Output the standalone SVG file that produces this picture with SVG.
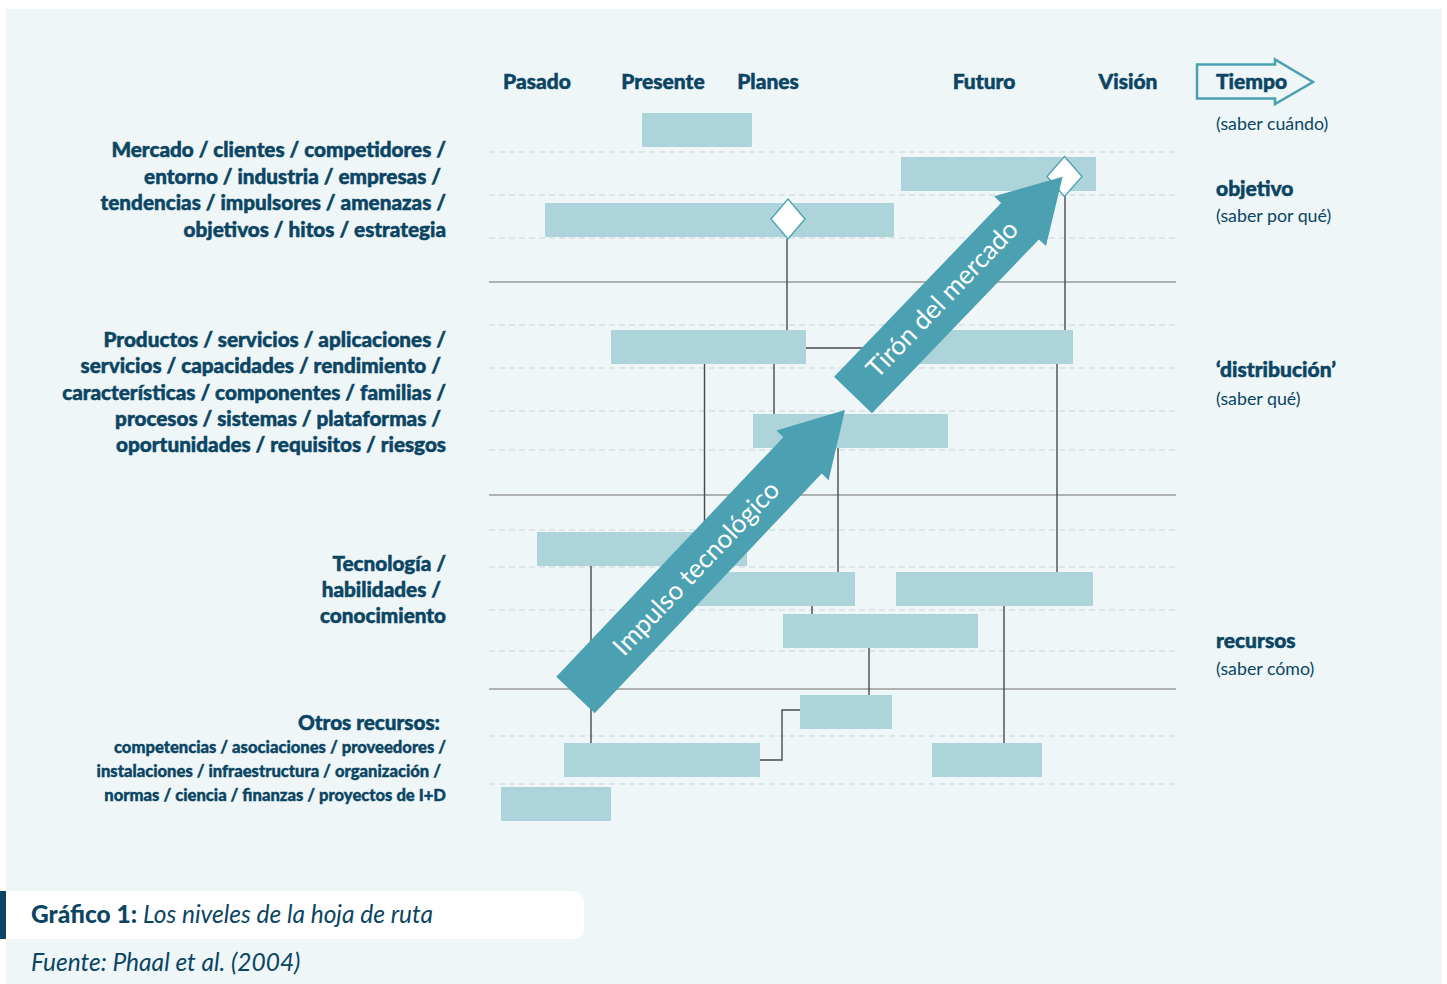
<svg xmlns="http://www.w3.org/2000/svg" width="1447" height="984" viewBox="0 0 1447 984">
<defs>
<style>
.bg{fill:#EEF6F8}
.bar{fill:#ADD4DA}
.dash{stroke:#D9E0E2;stroke-width:1.5;stroke-dasharray:6 4;fill:none}
.sep{stroke:#9A9A9A;stroke-width:1.5;fill:none}
.con{stroke:#4A4A4A;stroke-width:1.4;fill:none}
.dia{fill:#FFFFFF;stroke:#4BA1B1;stroke-width:1.3}
.arrow{fill:#4BA1B1}
.hd{font-family:Lato,"Noto Sans",sans-serif;font-weight:900;font-size:21px;fill:#0B4563;stroke:#0B4563;stroke-width:0.5}
.lab{font-family:Lato,"Noto Sans",sans-serif;font-weight:900;font-size:20.7px;fill:#0B4563;stroke:#0B4563;stroke-width:0.5;text-anchor:end}
.lab2{font-family:Lato,"Noto Sans",sans-serif;font-weight:900;font-size:16.6px;fill:#0B4563;stroke:#0B4563;stroke-width:0.4;text-anchor:end}
.rt{font-family:Lato,"Noto Sans",sans-serif;font-weight:900;font-size:21px;fill:#0B4563;stroke:#0B4563;stroke-width:0.5}
.rs{font-family:Lato,"Noto Sans",sans-serif;font-weight:400;font-size:17.8px;fill:#0B4563}
.at{font-family:Lato,"Noto Sans",sans-serif;font-weight:400;font-size:26px;fill:#FFFFFF;text-anchor:middle}
.cap{font-family:Lato,"Noto Sans",sans-serif;font-size:24.5px;fill:#0B4563}
</style>
</defs>
<rect x="0" y="0" width="1447" height="984" fill="#FFFFFF"/>
<rect class="bg" x="6" y="9" width="1436" height="975"/>

<g id="grid">
<line class="dash" x1="489" y1="152" x2="1176" y2="152"/>
<line class="dash" x1="489" y1="195" x2="1176" y2="195"/>
<line class="dash" x1="489" y1="238" x2="1176" y2="238"/>
<line class="sep" x1="489" y1="282" x2="1176" y2="282"/>
<line class="dash" x1="489" y1="325" x2="1176" y2="325"/>
<line class="dash" x1="489" y1="368" x2="1176" y2="368"/>
<line class="dash" x1="489" y1="411" x2="1176" y2="411"/>
<line class="dash" x1="489" y1="450" x2="1176" y2="450"/>
<line class="sep" x1="489" y1="495" x2="1176" y2="495"/>
<line class="dash" x1="489" y1="530" x2="1176" y2="530"/>
<line class="dash" x1="489" y1="567" x2="1176" y2="567"/>
<line class="dash" x1="489" y1="610" x2="1176" y2="610"/>
<line class="dash" x1="489" y1="651" x2="1176" y2="651"/>
<line class="sep" x1="489" y1="689" x2="1176" y2="689"/>
<line class="dash" x1="489" y1="736" x2="1176" y2="736"/>
<line class="dash" x1="489" y1="784" x2="1176" y2="784"/>
</g>

<g id="headers">
<text class="hd" x="537" y="89" text-anchor="middle">Pasado</text>
<text class="hd" x="663" y="89" text-anchor="middle">Presente</text>
<text class="hd" x="768" y="89" text-anchor="middle">Planes</text>
<text class="hd" x="984" y="89" text-anchor="middle">Futuro</text>
<text class="hd" x="1128" y="89" text-anchor="middle">Visión</text>
</g>

<g id="tiempo">
<polygon points="1197,64.5 1275,64.5 1275,59.5 1313,82 1275,104 1275,98.5 1197,98.5" fill="none" stroke="#4BA1B1" stroke-width="2.5"/>
<text class="rt" x="1216" y="89">Tiempo</text>
<text class="rs" x="1216" y="130">(saber cuándo)</text>
</g>

<g id="right-labels">
<text class="rt" x="1216" y="196">objetivo</text>
<text class="rs" x="1216" y="222">(saber por qué)</text>
<text class="rt" x="1216" y="377">‘distribución’</text>
<text class="rs" x="1216" y="405">(saber qué)</text>
<text class="rt" x="1216" y="648">recursos</text>
<text class="rs" x="1216" y="675">(saber cómo)</text>
</g>

<g id="left-labels">
<text class="lab" x="446" y="157">Mercado / clientes / competidores /</text>
<text class="lab" x="441" y="183.5">entorno / industria / empresas /</text>
<text class="lab" x="446" y="210">tendencias / impulsores / amenazas /</text>
<text class="lab" x="446" y="236.5">objetivos / hitos / estrategia</text>
<text class="lab" x="446" y="347">Productos / servicios / aplicaciones /</text>
<text class="lab" x="441" y="373">servicios / capacidades / rendimiento /</text>
<text class="lab" x="446" y="399.5">características / componentes / familias /</text>
<text class="lab" x="441" y="426">procesos / sistemas / plataformas /</text>
<text class="lab" x="446" y="452">oportunidades / requisitos / riesgos</text>
<text class="lab" x="446" y="571">Tecnología /</text>
<text class="lab" x="441" y="596.5">habilidades /</text>
<text class="lab" x="446" y="623">conocimiento</text>
<text class="lab" x="440" y="729.5">Otros recursos:</text>
<text class="lab2" x="446" y="753">competencias / asociaciones / proveedores /</text>
<text class="lab2" x="441" y="777">instalaciones / infraestructura / organización /</text>
<text class="lab2" x="446" y="801">normas / ciencia / finanzas / proyectos de I+D</text>
</g>

<g id="connectors">
<line class="con" x1="787" y1="239" x2="787" y2="330"/>
<line class="con" x1="1065" y1="196" x2="1065" y2="330"/>
<line class="con" x1="806" y1="348" x2="880" y2="348"/>
<line class="con" x1="704.5" y1="364" x2="704.5" y2="532"/>
<line class="con" x1="774" y1="364" x2="774" y2="414"/>
<line class="con" x1="838" y1="448" x2="838" y2="572"/>
<line class="con" x1="1057" y1="364" x2="1057" y2="572"/>
<line class="con" x1="591" y1="566" x2="591" y2="743"/>
<line class="con" x1="812" y1="606" x2="812" y2="614"/>
<line class="con" x1="869" y1="648" x2="869" y2="695"/>
<line class="con" x1="1004" y1="606" x2="1004" y2="743"/>
<polyline class="con" points="760,760 782,760 782,710 800,710"/>
</g>

<g id="bars">
<rect id="b1" class="bar" x="642" y="113" width="110" height="34"/>
<rect id="b2" class="bar" x="901" y="157" width="195" height="34"/>
<rect id="b3" class="bar" x="545" y="203" width="349" height="34"/>
<rect id="b4" class="bar" x="611" y="330" width="195" height="34"/>
<rect id="b5" class="bar" x="880" y="330" width="193" height="34"/>
<rect id="b6" class="bar" x="753" y="414" width="195" height="34"/>
<rect id="b7" class="bar" x="537" y="532" width="210" height="34"/>
<rect id="b8" class="bar" x="690" y="572" width="165" height="34"/>
<rect id="b9" class="bar" x="896" y="572" width="197" height="34"/>
<rect id="b10" class="bar" x="783" y="614" width="195" height="34"/>
<rect id="b11" class="bar" x="800" y="695" width="92" height="34"/>
<rect id="b12" class="bar" x="564" y="743" width="196" height="34"/>
<rect id="b13" class="bar" x="932" y="743" width="110" height="34"/>
<rect id="b14" class="bar" x="501" y="787" width="110" height="34"/>
</g>

<g id="milestones">
<polygon class="dia" points="788,199 805,219 788,239 771,219"/>
<polygon class="dia" points="1064.5,156.5 1082,176.5 1064.5,196.5 1047,176.5"/>
</g>

<g id="impulso">
<polygon class="arrow" points="556.3,676.8 783.3,437.2 776.4,430.6 845,410 828.6,480.2 821.7,473.6 594.7,713.2"/>
<text class="at" x="696" y="568" dy="9" transform="rotate(-46.6 696 568)">Impulso tecnológico</text>
</g>

<g id="tiron">
<polygon class="arrow" points="834.1,376.8 1001.1,203 994,196.3 1062.6,176.7 1046,246.1 1038.9,239.4 871.9,413.2"/>
<text class="at" x="942" y="299" dy="9" transform="rotate(-46.2 942 299)">Tirón del mercado</text>
</g>

<g id="caption">
<rect x="6" y="891" width="578" height="48" rx="12" fill="#FFFFFF"/>
<rect x="6" y="891" width="20" height="48" fill="#FFFFFF"/>
<rect x="0" y="891" width="6" height="48" fill="#0B4563"/>
<text class="cap" x="31" y="923"><tspan font-weight="900">Gráfico 1:</tspan><tspan font-style="italic"> Los niveles de la hoja de ruta</tspan></text>
<text class="cap" x="31" y="971" font-style="italic" font-size="25px">Fuente: Phaal et al. (2004)</text>
</g>
</svg>
